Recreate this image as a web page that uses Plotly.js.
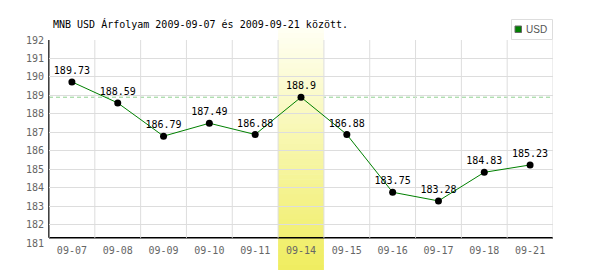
<!DOCTYPE html>
<html><head><meta charset="utf-8">
<script src="https://cdn.plot.ly/plotly-3.0.1.min.js"></script>
<style>html,body{margin:0;padding:0;background:#fff}</style>
</head><body><div id="chart" style="width:600px;height:270px"></div>
<script>
// ---- data ----
const categories = ['09-07','09-08','09-09','09-10','09-11','09-14','09-15','09-16','09-17','09-18','09-21'];
const usdRates = [189.73, 188.59, 186.79, 187.49, 186.88, 188.9, 186.88, 183.75, 183.28, 184.83, 185.23];
const seriesName = 'USD';
const highlightCategory = '09-14';
const yTickValues = [181,182,183,184,185,186,187,188,189,190,191,192];
const titleText = 'MNB USD Árfolyam 2009-09-07 és 2009-09-21 között.';

// ---- geometry / style ----
const W = 600, H = 270;
const M = {l: 49, r: 47, t: 40, b: 27};
const plotH = H - M.t - M.b, plotW = W - M.l - M.r;
const pxToPaperY = px => (H - M.b - px) / plotH;
const pxToPaperX = px => (px - M.l) / plotW;
const yMin = yTickValues[0], yMax = yTickValues[yTickValues.length - 1];
const axisFloor = Math.min(...usdRates) - 2;   // black baseline
const hiIdx = categories.indexOf(highlightCategory);
const hiValue = usdRates[hiIdx];
const mono = 'DejaVu Sans Mono, monospace';
const seriesColor = '#008000';

const shapes = [];
// dashed reference line at highlighted value
shapes.push({type: 'line', layer: 'between', xref: 'paper', yref: 'y', x0: 0, x1: 1, y0: hiValue, y1: hiValue,
  line: {color: '#8fd18f', width: 1, dash: '4px,3px'}});
// gradient band for highlighted category
const bandTop = 28, bandBottom = 270, nStrips = 48;
const c0 = [255, 255, 244], c1 = [239, 237, 95];
for (let i = 0; i < nStrips; i++) {
  const t = (i + 0.5) / nStrips;
  const c = c0.map((v, k) => Math.round(v + (c1[k] - v) * t));
  const pTop = bandTop + (bandBottom - bandTop) * i / nStrips;
  const pBot = bandTop + (bandBottom - bandTop) * (i + 1) / nStrips + 0.6;
  shapes.push({type: 'rect', layer: 'between', xref: 'x', yref: 'paper',
    x0: hiIdx - 0.5, x1: hiIdx + 0.5, y0: pxToPaperY(pBot), y1: pxToPaperY(pTop),
    fillcolor: `rgb(${c[0]},${c[1]},${c[2]})`, line: {width: 0}});
}
// vertical gridlines at category boundaries
for (let i = 0; i <= categories.length; i++) {
  shapes.push({type: 'line', layer: 'between', xref: 'x', yref: 'y', x0: i - 0.5, x1: i - 0.5, y0: axisFloor, y1: yMax,
    line: {color: '#dddddd', width: 1}});
}
// black axes lines
shapes.push({type: 'line', layer: 'between', xref: 'paper', yref: 'y', x0: 0, x1: 1, y0: axisFloor, y1: axisFloor,
  line: {color: '#000', width: 1.5}});
shapes.push({type: 'line', layer: 'between', xref: 'paper', yref: 'y', x0: 0, x1: 0, y0: axisFloor, y1: yMax,
  line: {color: '#000', width: 1.5}});
// legend box + swatch
shapes.push({type: 'rect', layer: 'above', xref: 'paper', yref: 'paper',
  x0: pxToPaperX(511.5), x1: pxToPaperX(552.5), y0: pxToPaperY(39.5), y1: pxToPaperY(19.5),
  fillcolor: '#fff', line: {color: '#dddddd', width: 1}});
shapes.push({type: 'rect', layer: 'above', xref: 'paper', yref: 'paper',
  x0: pxToPaperX(515), x1: pxToPaperX(521.5), y0: pxToPaperY(32.5), y1: pxToPaperY(26),
  fillcolor: seriesColor, line: {color: '#666', width: 1}});

const traces = [
  {
    x: categories, y: usdRates, type: 'scatter', mode: 'lines+markers+text', name: seriesName,
    line: {color: seriesColor, width: 1},
    marker: {color: '#000', size: 7},
    text: usdRates.map(v => String(v)), textposition: 'top center',
    textfont: {family: mono, size: 10, color: '#000'},
    showlegend: false, cliponaxis: false, hoverinfo: 'skip'
  }
];

const layout = {
  width: W, height: H, margin: M,
  paper_bgcolor: '#fff', plot_bgcolor: '#fff',
  title: {text: titleText, font: {family: mono, size: 10, color: '#000'},
    xref: 'container', yref: 'container', x: 53 / W, xanchor: 'left', y: 1 - 24 / H, yanchor: 'middle'},
  xaxis: {type: 'category', range: [-0.5, categories.length - 0.5], showgrid: false, zeroline: false,
    showline: false, ticks: '', tickfont: {family: mono, size: 10, color: '#666'}, fixedrange: true},
  yaxis: {range: [yMin, yMax], tickvals: yTickValues, showgrid: true, gridcolor: '#dddddd', gridwidth: 1,
    zeroline: false, showline: false, ticks: '', ticklabelstandoff: 4,
    tickfont: {family: mono, size: 10, color: '#666'}, fixedrange: true},
  showlegend: false,
  annotations: [{text: seriesName, xref: 'paper', yref: 'paper', x: pxToPaperX(523.5), xanchor: 'left',
    y: pxToPaperY(29.5), yanchor: 'middle', showarrow: false,
    font: {family: 'Liberation Sans Narrow, sans-serif', size: 10, color: '#555'}}],
  shapes: shapes
};

Plotly.newPlot('chart', traces, layout, {displayModeBar: false, staticPlot: true});
</script>
</body></html>
